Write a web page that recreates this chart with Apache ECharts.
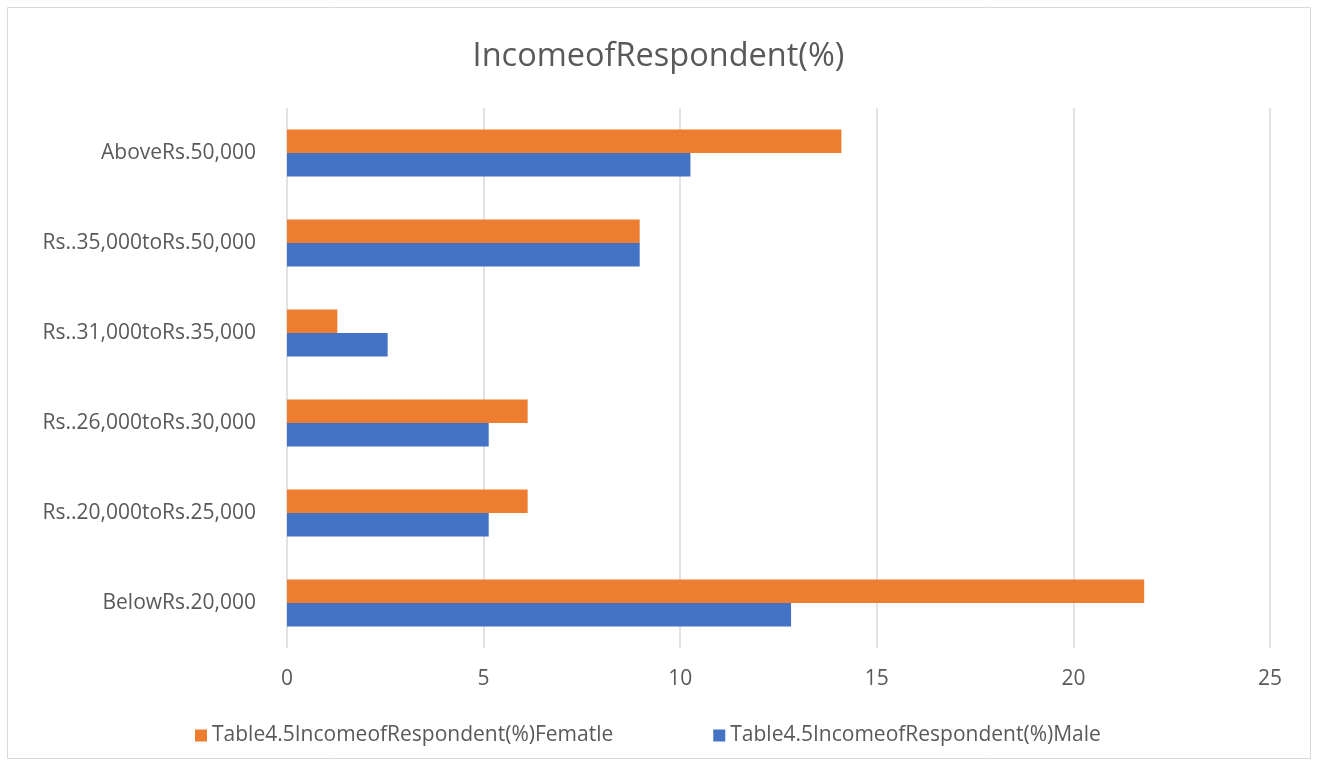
<!DOCTYPE html>
<html><head><meta charset="utf-8">
<script src="https://cdn.jsdelivr.net/npm/echarts@6/dist/echarts.min.js"></script>
<style>html,body{margin:0;padding:0;background:#fff}#c{width:1317px;height:765px}</style>
</head><body><div id="c"></div>
<script>
const categories = ['BelowRs.20,000','Rs..20,000toRs.25,000','Rs..26,000toRs.30,000','Rs..31,000toRs.35,000','Rs..35,000toRs.50,000','AboveRs.50,000'];
const maleValues = [12.82, 5.13, 5.13, 2.56, 8.97, 10.26];
const femaleValues = [21.8, 6.12, 6.12, 1.28, 8.97, 14.1];
const maleName = 'Table4.5IncomeofRespondent(%)Male';
const femaleName = 'Table4.5IncomeofRespondent(%)Fematle';
const titleText = 'IncomeofRespondent(%)';

const font = 'Open Sans';
const chart = echarts.init(document.getElementById('c'));
chart.setOption({
  animation: false,
  textStyle: {fontFamily: font},
  title: {text: titleText, left: 'center', top: 35,
    textStyle: {fontFamily: font, fontSize: 32.5, fontWeight: 'normal', color: '#595959'}},
  graphic: [{type: 'rect', shape: {x: 7.5, y: 7.5, width: 1303, height: 751},
    style: {fill: 'none', stroke: '#d9d9d9', lineWidth: 1}}],
  legend: {data: [femaleName, maleName], top: 720, left: 190, itemGap: 100,
    itemWidth: 12, itemHeight: 12, icon: 'rect',
    textStyle: {fontFamily: font, fontSize: 21, color: '#595959'}},
  grid: {left: 287, right: 47, top: 108, bottom: 117},
  xAxis: {type: 'value', min: 0, max: 25, interval: 5,
    axisLine: {show: false}, axisTick: {show: false},
    axisLabel: {fontSize: 21, color: '#595959', margin: 21, fontFamily: font},
    splitLine: {lineStyle: {color: '#d9d9d9', width: 1.5}}},
  yAxis: {type: 'category', data: categories,
    axisLine: {show: false}, axisTick: {show: false},
    axisLabel: {fontSize: 21, color: '#595959', margin: 31, fontFamily: font}},
  series: [
    {name: femaleName, type: 'bar', data: femaleValues, itemStyle: {color: '#ed7d31'}, barGap: '0%', barCategoryGap: '48%'},
    {name: maleName, type: 'bar', data: maleValues, itemStyle: {color: '#4472c4'}, barGap: '0%', barCategoryGap: '48%'}
  ]
});
</script></body></html>
